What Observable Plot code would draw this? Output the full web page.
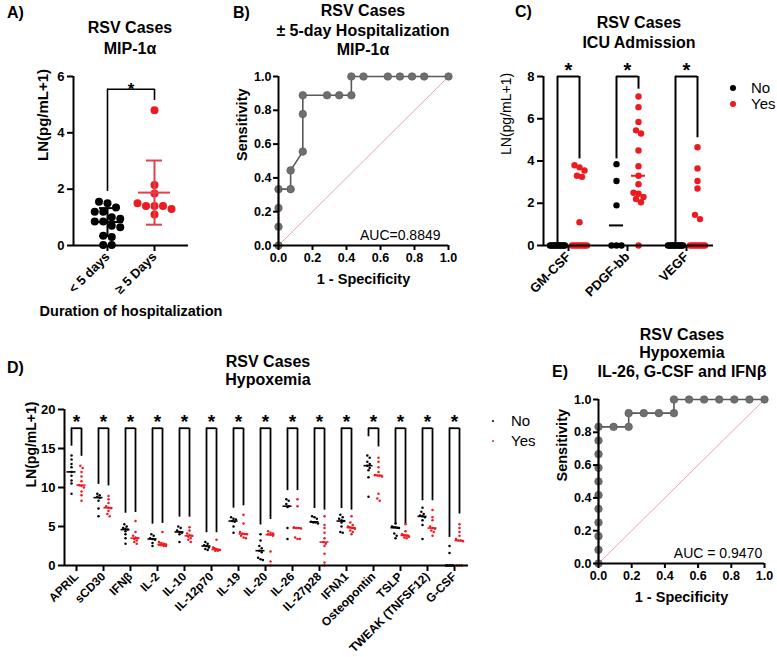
<!DOCTYPE html>
<html>
<head>
<meta charset="utf-8">
<script src="https://cdn.jsdelivr.net/npm/d3@7"></script>
<script src="https://cdn.jsdelivr.net/npm/@observablehq/plot@0.6"></script>
<style>
  body { margin: 0; background: #fff; }
  #page { position: relative; width: 777px; height: 657px; overflow: hidden; background: #fff;
          font-family: "Liberation Sans", Arial, Helvetica, sans-serif; color: #000; }
  .title { position: absolute; width: 320px; text-align: center; font-weight: bold; font-size: 16px; white-space: nowrap; }
  .letter { position: absolute; font-weight: bold; font-size: 16px; line-height: 18px; }
  .legtext { position: absolute; font-size: 15px; line-height: 16px; }
  .legdot { position: absolute; border-radius: 50%; }
</style>
</head>
<body>
<div id="page"></div>
<script>
// ---------- Panel A: MIP-1α by duration of hospitalization ----------
const hospGroups = ["< 5 days", "≥ 5 Days"];
const mipShortStay = [1.55, 1.5, 1.35, 1.2, 1.2, 1.0, 0.95, 0.85, 0.85, 0.7, 0.65, 0.35, 0.3, 0.02, 0.02];
const mipLongStay = [4.8, 2.15, 1.85, 1.5, 1.4, 1.4, 1.4, 1.3, 1.1];
const mipBracket = {top: 5.55, shortLeg: 1.92, longLeg: 5.15};

// ---------- Panel B: ROC, MIP-1α for ±5-day hospitalization ----------
const rocBFpr = [0, 0, 0, 0, 0.0714, 0.0714, 0.1429, 0.1429, 0.1429, 0.2857, 0.3571, 0.4286, 0.4286, 0.5, 0.6429, 0.7143, 0.7857, 0.8571, 1];
const rocBTpr = [0, 0.1111, 0.2222, 0.3333, 0.3333, 0.4444, 0.5556, 0.7778, 0.8889, 0.8889, 0.8889, 0.8889, 1, 1, 1, 1, 1, 1, 1];
const rocBAuc = "AUC=0.8849";

// ---------- Panel C: ICU admission ----------
const icuCytokines = ["GM-CSF", "PDGF-bb", "VEGF"];
const icuNo = [
  [0, 0, 0, 0, 0, 0, 0, 0, 0, 0, 0, 0],
  [3.85, 3.05, 1.9, 0, 0, 0],
  [0, 0, 0, 0, 0, 0, 0, 0, 0, 0, 0, 0]
];
const icuYes = [
  [3.8, 3.7, 3.55, 3.3, 3.25, 1.1, 0, 0, 0, 0, 0, 0, 0, 0],
  [7.05, 6.55, 5.85, 5.45, 5.3, 4.5, 3.75, 3.3, 2.9, 2.5, 2.45, 2.3, 2.2, 2.05, 0],
  [4.65, 3.65, 3.05, 2.7, 1.45, 1.25, 0, 0, 0, 0, 0, 0, 0, 0]
];
const icuBracketTop = 8;
const icuLegNo = [0.1, 4.1, 0.1];
const icuLegYes = [4.1, 7.4, 5.1];

// ---------- Panel D: hypoxemia ----------
const hypoxCytokines = ["APRIL", "sCD30", "IFNβ", "IL-2", "IL-10", "IL-12p70", "IL-19", "IL-20", "IL-26",
  "IL-27p28", "IFNλ1", "Osteopontin", "TSLP", "TWEAK (TNFSF12)", "G-CSF"];
const hypoxNo = [
  [14.1, 13.6, 13.0, 12.6, 12.0, 11.5, 10.9, 10.5, 9.2],
  [9.2, 9.0, 8.8, 8.7, 8.3, 7.3, 6.3],
  [5.3, 5.0, 4.8, 4.7, 4.6, 4.4, 4.0, 3.5, 2.8],
  [4.0, 3.8, 3.5, 3.4, 3.3, 2.9, 2.5],
  [5.0, 4.8, 4.5, 4.3, 4.2, 4.0, 3.0],
  [3.0, 2.8, 2.6, 2.5, 2.3, 2.1, 2.0],
  [6.2, 6.0, 5.9, 5.7, 5.6, 5.0, 4.2],
  [4.0, 3.2, 2.5, 2.2, 1.9, 1.7, 1.0, 0.8, 0.7],
  [8.5, 8.3, 7.9, 7.6, 7.5, 4.8, 3.4],
  [6.3, 6.2, 6.0, 5.6, 5.5, 5.5, 5.4],
  [6.5, 6.2, 6.0, 5.8, 5.7, 5.5, 5.0, 4.3, 4.2],
  [14.1, 13.8, 13.3, 13.0, 12.8, 12.5, 12.2, 11.3, 8.8],
  [5.4, 5.0, 4.9, 4.9, 4.85, 4.8, 4.1, 3.8, 3.5],
  [7.4, 6.9, 6.6, 6.4, 6.3, 6.2, 5.8, 5.2, 3.4],
  [2.5, 1.6, 0, 0, 0, 0, 0]
];
const hypoxYes = [
  [12.8, 12.5, 12.0, 11.4, 10.8, 10.3, 10.2, 10.0, 9.5, 9.0, 8.3],
  [8.9, 8.5, 8.0, 7.6, 7.4, 7.35, 7.0, 6.6, 6.3],
  [5.7, 4.3, 3.8, 3.6, 3.5, 3.4, 3.2, 3.0, 2.8],
  [4.3, 3.0, 2.9, 2.8, 2.7, 2.65, 2.6, 2.5, 2.5],
  [4.9, 4.5, 4.1, 3.9, 3.8, 3.7, 3.5, 3.3, 3.0],
  [3.3, 2.3, 2.2, 2.1, 2.05, 2.0, 2.0, 1.9, 1.9],
  [6.5, 5.4, 4.3, 4.1, 4.05, 4.0, 3.8, 3.6, 3.5],
  [4.4, 4.2, 4.1, 4.0, 3.95, 3.8, 1.8, 0.5, 0],
  [8.5, 7.6, 4.9, 4.8, 4.8, 4.75, 3.6, 3.4, 3.4],
  [6.3, 5.2, 4.8, 4.2, 3.5, 3.0, 2.8, 2.5, 1.5, 0.4, 0],
  [6.3, 5.5, 5.2, 5.0, 4.9, 4.85, 4.8, 4.7, 4.5, 4.3, 4.0],
  [13.8, 13.3, 12.6, 12.0, 11.6, 11.55, 11.5, 11.4, 9.2, 8.6, 8.3],
  [5.3, 4.4, 4.0, 3.9, 3.85, 3.8, 3.7, 3.6, 3.5],
  [7.1, 6.2, 5.8, 5.0, 4.8, 4.7, 4.5, 4.3, 3.8],
  [5.3, 4.8, 4.3, 3.8, 3.4, 3.2, 3.2, 3.1, 0, 0, 0]
];
const hypoxBracketTop = 17.6;
const hypoxLegNo = [15.3, 10.4, 6.7, 5.3, 6.2, 4.2, 7.35, 5.2, 9.6, 7.3, 7.3, 16.5, 5.3, 8.3, 3.6];
const hypoxLegYes = [14.0, 10.2, 6.8, 5.4, 6.2, 4.2, 7.65, 5.9, 9.6, 7.1, 7.1, 15.2, 5.3, 8.3, 6.6];

// ---------- Panel E: ROC, IL-26 + G-CSF + IFNβ for hypoxemia ----------
const rocEFpr = [0, 0, 0, 0, 0, 0, 0, 0, 0, 0, 0, 0.0909, 0.1818, 0.1818, 0.2727, 0.3636, 0.4545, 0.4545, 0.5455, 0.6364, 0.7273, 0.8182, 0.9091, 1];
const rocETpr = [0, 0.0833, 0.1667, 0.25, 0.3333, 0.4167, 0.5, 0.5833, 0.6667, 0.75, 0.8333, 0.8333, 0.8333, 0.9167, 0.9167, 0.9167, 0.9167, 1, 1, 1, 1, 1, 1, 1];
const rocEAuc = "AUC = 0.9470";

// ---------- shared helpers ----------
const FONT = '"Liberation Sans", Arial, Helvetica, sans-serif';
const RED = "#ee1a22";
const page = document.getElementById("page");

function put(el, left, top) {
  el.style.position = "absolute";
  el.style.left = left + "px";
  el.style.top = top + "px";
  page.appendChild(el);
}
function title(lines, cx, firstY, lineH) {
  const d = document.createElement("div");
  d.className = "title";
  d.style.lineHeight = lineH + "px";
  d.innerHTML = lines.map(s => s.replace(/</g, "&lt;")).join("<br>");
  put(d, cx - 160, firstY - lineH / 2);
}
function letter(txt, x, cy) {
  const d = document.createElement("div");
  d.className = "letter";
  d.textContent = txt;
  put(d, x, cy - 9);
}
function legendItem(txt, color, r, dotX, textX, cy) {
  const dot = document.createElement("div");
  dot.className = "legdot";
  dot.style.width = dot.style.height = (2 * r) + "px";
  dot.style.background = color;
  put(dot, dotX - r, cy - r);
  const t = document.createElement("div");
  t.className = "legtext";
  t.textContent = txt;
  put(t, textX, cy - 8);
}

// Horizontal spread of points that share (nearly) the same value, in pixels.
function spread(values, pxPerY, binPx, stepPx, maxPx) {
  const order = d3.range(values.length).sort((a, b) => values[b] - values[a]);
  const off = new Array(values.length).fill(0);
  let i = 0;
  while (i < order.length) {
    const start = values[order[i]];
    let j = i;
    while (j < order.length && (start - values[order[j]]) * pxPerY < binPx) j++;
    const n = j - i;
    const step = n > 1 ? Math.min(stepPx, maxPx / (n - 1)) : 0;
    for (let k = 0; k < n; k++) off[order[i + k]] = (k - (n - 1) / 2) * step;
    i = j;
  }
  return off;
}
function swarm(values, center, pxPerX, pxPerY, binPx, stepPx, maxPx) {
  const off = spread(values, pxPerY, binPx, stepPx, maxPx);
  return values.map((v, i) => ({x: center + off[i] / pxPerX, y: v}));
}
function baseStyle(size) {
  return {fontFamily: FONT, fontSize: size + "px", fontWeight: "bold", color: "#000", background: "#fff", overflow: "visible"};
}

// ================= Panel A =================
{
  const W = 200, H = 275, mL = 73, mT = 16, fw = 115, fh = 169;
  const pxX = 47, pad = 34 / pxX;
  const xd = [-pad, -pad + fw / pxX];
  const pxY = fh / 6;
  const groups = [mipShortStay, mipLongStay];
  const colors = ["#000", RED];
  const barColors = ["#000", "#e2404a"];
  const pts = groups.flatMap((vals, g) =>
    swarm(vals, g, pxX, pxY, 8, 8.5, 36).map(p => ({...p, g})));
  const stats = groups.map((vals, g) => ({g, mean: d3.mean(vals), sd: d3.deviation(vals)}));
  const marks = [
    Plot.ruleX([{x: 0, y1: mipBracket.shortLeg, y2: mipBracket.top}, {x: 1, y1: mipBracket.longLeg, y2: mipBracket.top}],
      {x: "x", y1: "y1", y2: "y2", strokeWidth: 1.6}),
    Plot.ruleY([mipBracket.top], {x1: 0, x2: 1, strokeWidth: 1.6}),
    Plot.text(["*"], {x: 0.5, y: mipBracket.top, text: d => d, fontSize: 17, fontWeight: "bold"}),
    Plot.dot(pts, {x: "x", y: "y", r: 4, fill: d => colors[d.g], stroke: null}),
    Plot.ruleX(stats, {x: "g", y1: d => d.mean - d.sd, y2: d => d.mean + d.sd, stroke: d => barColors[d.g], strokeWidth: 2}),
    Plot.ruleY(stats, {y: d => d.mean + d.sd, x1: d => d.g - 8 / pxX, x2: d => d.g + 8 / pxX, stroke: d => barColors[d.g], strokeWidth: 2}),
    Plot.ruleY(stats, {y: d => d.mean - d.sd, x1: d => d.g - 8 / pxX, x2: d => d.g + 8 / pxX, stroke: d => barColors[d.g], strokeWidth: 2}),
    Plot.ruleY(stats, {y: "mean", x1: d => d.g - 16 / pxX, x2: d => d.g + 16 / pxX, stroke: d => barColors[d.g], strokeWidth: 2}),
    Plot.ruleX([xd[0]], {strokeWidth: 2}),
    Plot.ruleY([0], {strokeWidth: 2}),
    Plot.axisY({ticks: [0, 2, 4, 6], tickFormat: d3.format("d"), tickSize: 6, tickPadding: 3, strokeWidth: 2, fontSize: 13, label: null}),
    Plot.axisX({ticks: [0, 1], tickFormat: i => hospGroups[i], tickRotate: -45, tickSize: 6, tickPadding: 3, strokeWidth: 2, fontSize: 13, label: null}),
    Plot.text(["LN(pg/mL+1)"], {frameAnchor: "left", text: d => d, rotate: -90, dx: -30, fontSize: 15, fontWeight: "bold"}),
    Plot.text(["Duration of hospitalization"], {frameAnchor: "bottom", text: d => d, dy: 70, fontSize: 14.5, fontWeight: "bold"})
  ];
  const svg = Plot.plot({
    width: W, height: H, marginLeft: mL, marginTop: mT, marginRight: W - mL - fw, marginBottom: H - mT - fh,
    x: {domain: xd, axis: null}, y: {domain: [0, 6], axis: null},
    style: baseStyle(13), marks
  });
  put(svg, 0, 60);
}

// ================= ROC panels (B and E) =================
function rocPanel(fpr, tpr, auc, left, top, W, H, mL, mT, fw, fh, aucX) {
  const pts = fpr.map((f, i) => ({x: f, y: tpr[i]}));
  const svg = Plot.plot({
    width: W, height: H, marginLeft: mL, marginTop: mT, marginRight: W - mL - fw, marginBottom: H - mT - fh,
    x: {domain: [0, 1], axis: null}, y: {domain: [0, 1], axis: null},
    style: baseStyle(12.5),
    marks: [
      Plot.line([{x: 0, y: 0}, {x: 1, y: 1}], {x: "x", y: "y", stroke: "#e2a9b0", strokeWidth: 1}),
      Plot.line(pts, {x: "x", y: "y", stroke: "#595959", strokeWidth: 1.6}),
      Plot.dot(pts, {x: "x", y: "y", r: 3.8, fill: "#6f6f6f", stroke: "#555", strokeWidth: 0.6}),
      Plot.ruleX([0], {strokeWidth: 2}),
      Plot.ruleY([0], {strokeWidth: 2}),
      Plot.axisY({ticks: d3.range(0, 1.01, 0.2), tickFormat: d3.format(".1f"), tickSize: 5, tickPadding: 2, strokeWidth: 2, label: null}),
      Plot.axisX({ticks: d3.range(0, 1.01, 0.2), tickFormat: d3.format(".1f"), tickSize: 5, tickPadding: 3, strokeWidth: 2, label: null}),
      Plot.text([auc], {x: aucX, y: 0.06, text: d => d, textAnchor: "end", fontSize: 14, fontWeight: "normal"}),
      Plot.text(["Sensitivity"], {frameAnchor: "left", text: d => d, rotate: -90, dx: -36, fontSize: 14.5, fontWeight: "bold"}),
      Plot.text(["1 - Specificity"], {frameAnchor: "bottom", text: d => d, dy: 38, fontSize: 14.5, fontWeight: "bold"})
    ]
  });
  put(svg, left, top);
}
rocPanel(rocBFpr, rocBTpr, rocBAuc, 240, 60, 225, 240, 38, 16, 170, 169, 0.953);
rocPanel(rocEFpr, rocETpr, rocEAuc, 555, 385, 222, 230, 43, 14, 166, 164, 0.986);

// ================= Panel C =================
{
  const W = 230, H = 260, mL = 43, mT = 16, fw = 170, fh = 169;
  const pxX = 59, pad = 25 / pxX;
  const xd = [-pad, -pad + fw / pxX];
  const pxY = fh / 8;
  const sub = 11 / pxX;
  const pts = [];
  const meds = [];
  icuCytokines.forEach((c, g) => {
    swarm(icuNo[g], g - sub, pxX, pxY, 6, 5, 15).forEach(p => pts.push({...p, yes: false}));
    swarm(icuYes[g], g + sub, pxX, pxY, 6, 5, 15).forEach(p => pts.push({...p, yes: true}));
    meds.push({c: g - sub, m: d3.median(icuNo[g]), yes: false});
    meds.push({c: g + sub, m: d3.median(icuYes[g]), yes: true});
  });
  const legs = icuCytokines.flatMap((c, g) => [
    {x: g - sub, y1: icuLegNo[g], y2: icuBracketTop},
    {x: g + sub, y1: icuLegYes[g], y2: icuBracketTop}
  ]);
  const svg = Plot.plot({
    width: W, height: H, marginLeft: mL, marginTop: mT, marginRight: W - mL - fw, marginBottom: H - mT - fh,
    x: {domain: xd, axis: null}, y: {domain: [0, 8], axis: null},
    style: baseStyle(13),
    marks: [
      Plot.ruleX(legs, {x: "x", y1: "y1", y2: "y2", strokeWidth: 2}),
      Plot.ruleY(icuCytokines, {y: icuBracketTop, x1: (c, g) => g - sub, x2: (c, g) => g + sub, strokeWidth: 2}),
      Plot.text(icuCytokines, {x: (c, g) => g, y: icuBracketTop, text: () => "*", dy: -6, fontSize: 20, fontWeight: "bold"}),
      Plot.dot(pts, {x: "x", y: "y", r: 3.2, fill: d => d.yes ? RED : "#000", stroke: null}),
      Plot.ruleY(meds, {y: "m", x1: d => d.c - 7 / pxX, x2: d => d.c + 7 / pxX, stroke: d => d.yes ? RED : "#000", strokeWidth: 2}),
      Plot.ruleX([xd[0]], {strokeWidth: 2}),
      Plot.ruleY([0], {strokeWidth: 2}),
      Plot.axisY({ticks: [0, 2, 4, 6, 8], tickFormat: d3.format("d"), tickSize: 6, tickPadding: 3, strokeWidth: 2, label: null}),
      Plot.axisX({ticks: [0, 1, 2], tickFormat: i => icuCytokines[i], tickRotate: -45, tickSize: 6, tickPadding: 3, strokeWidth: 2, label: null}),
      Plot.text(["LN(pg/mL+1)"], {frameAnchor: "left", text: d => d, rotate: -90, dx: -37, dy: -6, fontSize: 14, fontWeight: "normal"})
    ]
  });
  put(svg, 500, 60);
  legendItem("No", "#000", 3.3, 733, 751, 88);
  legendItem("Yes", RED, 3.3, 733, 751, 104);
}

// ================= Panel D =================
{
  const W = 480, H = 262, mL = 64, mT = 14, fw = 404, fh = 156;
  const pxX = 27, pad = 12 / pxX;
  const xd = [-pad, -pad + fw / pxX];
  const pxY = fh / 20;
  const sub = 5 / pxX;
  const pts = [];
  const meds = [];
  hypoxCytokines.forEach((c, i) => {
    swarm(hypoxNo[i], i - sub, pxX, pxY, 2.6, 2.4, 7).forEach(p => pts.push({...p, yes: false}));
    swarm(hypoxYes[i], i + sub, pxX, pxY, 2.6, 2.4, 7).forEach(p => pts.push({...p, yes: true}));
    meds.push({c: i - sub, m: d3.median(hypoxNo[i]), yes: false});
    meds.push({c: i + sub, m: d3.median(hypoxYes[i]), yes: true});
  });
  const legs = hypoxCytokines.flatMap((c, i) => [
    {x: i - sub, y1: hypoxLegNo[i], y2: hypoxBracketTop},
    {x: i + sub, y1: hypoxLegYes[i], y2: hypoxBracketTop}
  ]);
  const svg = Plot.plot({
    width: W, height: H, marginLeft: mL, marginTop: mT, marginRight: W - mL - fw, marginBottom: H - mT - fh,
    x: {domain: xd, axis: null}, y: {domain: [0, 20], axis: null},
    style: baseStyle(12),
    marks: [
      Plot.ruleX(legs, {x: "x", y1: "y1", y2: "y2", strokeWidth: 1.8}),
      Plot.ruleY(hypoxCytokines, {y: hypoxBracketTop, x1: (c, i) => i - sub, x2: (c, i) => i + sub, strokeWidth: 1.8}),
      Plot.text(hypoxCytokines, {x: (c, i) => i, y: hypoxBracketTop, text: () => "*", dy: -6, fontSize: 19, fontWeight: "bold"}),
      Plot.dot(pts, {x: "x", y: "y", r: 1.25, fill: d => d.yes ? RED : "#000", stroke: null}),
      Plot.ruleY(meds, {y: "m", x1: d => d.c - 4.5 / pxX, x2: d => d.c + 4.5 / pxX, stroke: d => d.yes ? RED : "#000", strokeWidth: 1.6}),
      Plot.ruleX([xd[0]], {strokeWidth: 2}),
      Plot.ruleY([0], {strokeWidth: 2}),
      Plot.axisY({ticks: [0, 5, 10, 15, 20], tickFormat: d3.format("d"), tickSize: 6, tickPadding: 3, strokeWidth: 2, fontSize: 13, label: null}),
      Plot.axisX({ticks: d3.range(hypoxCytokines.length), tickFormat: i => hypoxCytokines[i], tickRotate: -45, tickSize: 6, tickPadding: 3, strokeWidth: 2, label: null}),
      Plot.text(["LN(pg/mL+1)"], {frameAnchor: "left", text: d => d, rotate: -90, dx: -33, fontSize: 14, fontWeight: "bold"})
    ]
  });
  put(svg, 0, 395);
  legendItem("No", "#000", 1.3, 493, 511, 421);
  legendItem("Yes", RED, 1.3, 493, 511, 441);
}

// ---------- titles and panel letters ----------
letter("A)", 7, 13);
letter("B)", 233, 13);
letter("C)", 515, 12);
letter("D)", 7, 368);
letter("E)", 552, 372);
title(["RSV Cases", "MIP-1α"], 130, 27, 21);
title(["RSV Cases", "± 5-day Hospitalization", "MIP-1α"], 363, 11, 19.5);
title(["RSV Cases", "ICU Admission"], 639, 23, 19.5);
title(["RSV Cases", "Hypoxemia"], 268, 362, 18.5);
title(["RSV Cases", "Hypoxemia", "IL-26, G-CSF and IFNβ"], 682, 335, 18.5);
</script>
</body>
</html>
